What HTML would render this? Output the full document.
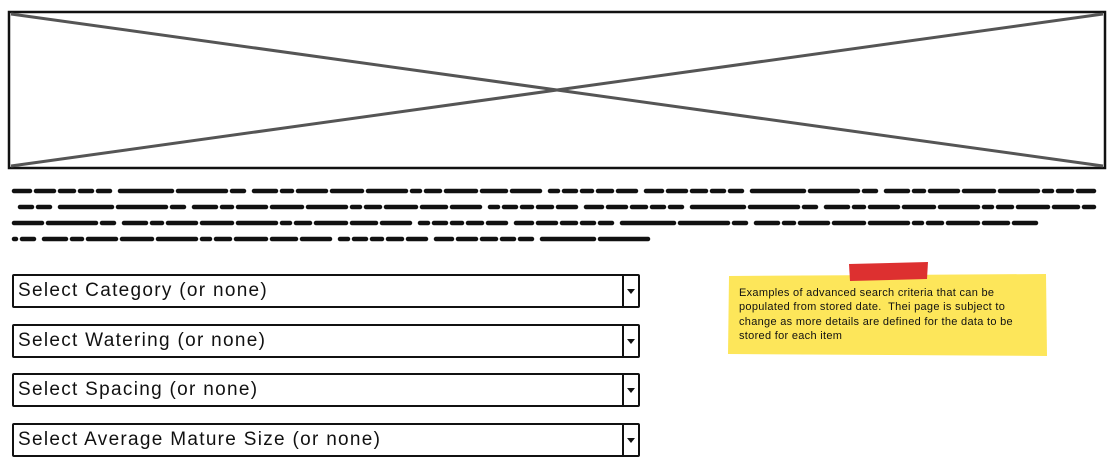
<!DOCTYPE html>
<html><head><meta charset="utf-8"><style>
body{margin:0;width:1119px;height:475px;background:#fff;overflow:hidden;position:relative;font-family:"Liberation Sans",sans-serif}
.dd{position:absolute;left:12px;width:624px;height:30px;border:2px solid #111;border-radius:2px;box-sizing:content-box}
.dd span{position:absolute;left:4px;top:4px;font-size:19px;color:#111;letter-spacing:1.3px}
.dd i{position:absolute;right:0;top:0;width:14px;height:30px;border-left:2px solid #111}
.dd i:after{content:"";position:absolute;left:3px;top:13px;border-left:4px solid transparent;border-right:4px solid transparent;border-top:5px solid #111}
</style></head><body>
<svg width="1119" height="475" style="position:absolute;left:0;top:0">
<rect x="9" y="12" width="1096" height="156" fill="#fff" stroke="#111" stroke-width="2.5"/>
<line x1="11" y1="14" x2="1103" y2="166" stroke="#555" stroke-width="3"/>
<line x1="11" y1="166" x2="1103" y2="14" stroke="#555" stroke-width="3"/>
<g stroke="#111" stroke-width="4.5" stroke-linecap="round" stroke-dasharray="16 6 18 6 14 6 12 6 12 10 52 6 48 6 12 10 22 6 10 6 28 6 30 6 38 6 8 6 14 6 30 6 24 6 28 10 8 6 12 6 10 6 14 6 18 10">
<line x1="14" y1="191" x2="1094" y2="191"/>
<line x1="14" y1="207" x2="1094" y2="207" stroke-dashoffset="60"/>
<line x1="14" y1="223" x2="1036" y2="223" stroke-dashoffset="130"/>
<line x1="14" y1="239" x2="653" y2="239" stroke-dashoffset="210"/>
</g>
<polygon points="729,276 1046,274 1047,356 728,354" fill="#fde65a"/>
<polygon points="849,264 928,262 927,279 850,281" fill="#dd3030"/>
</svg>
<div class="dd" style="top:274px"><span>Select Category (or none)</span><i></i></div>
<div class="dd" style="top:324px"><span>Select Watering (or none)</span><i></i></div>
<div class="dd" style="top:373px"><span>Select Spacing (or none)</span><i></i></div>
<div class="dd" style="top:423px"><span>Select Average Mature Size (or none)</span><i></i></div>
<div style="position:absolute;left:739px;top:286px;width:275px;font-size:11px;line-height:14.3px;letter-spacing:0.3px;color:#111">Examples of advanced search criteria that can be populated from stored date.&nbsp; Thei page is subject to change as more details are defined for the data to be stored for each item</div>
</body></html>
